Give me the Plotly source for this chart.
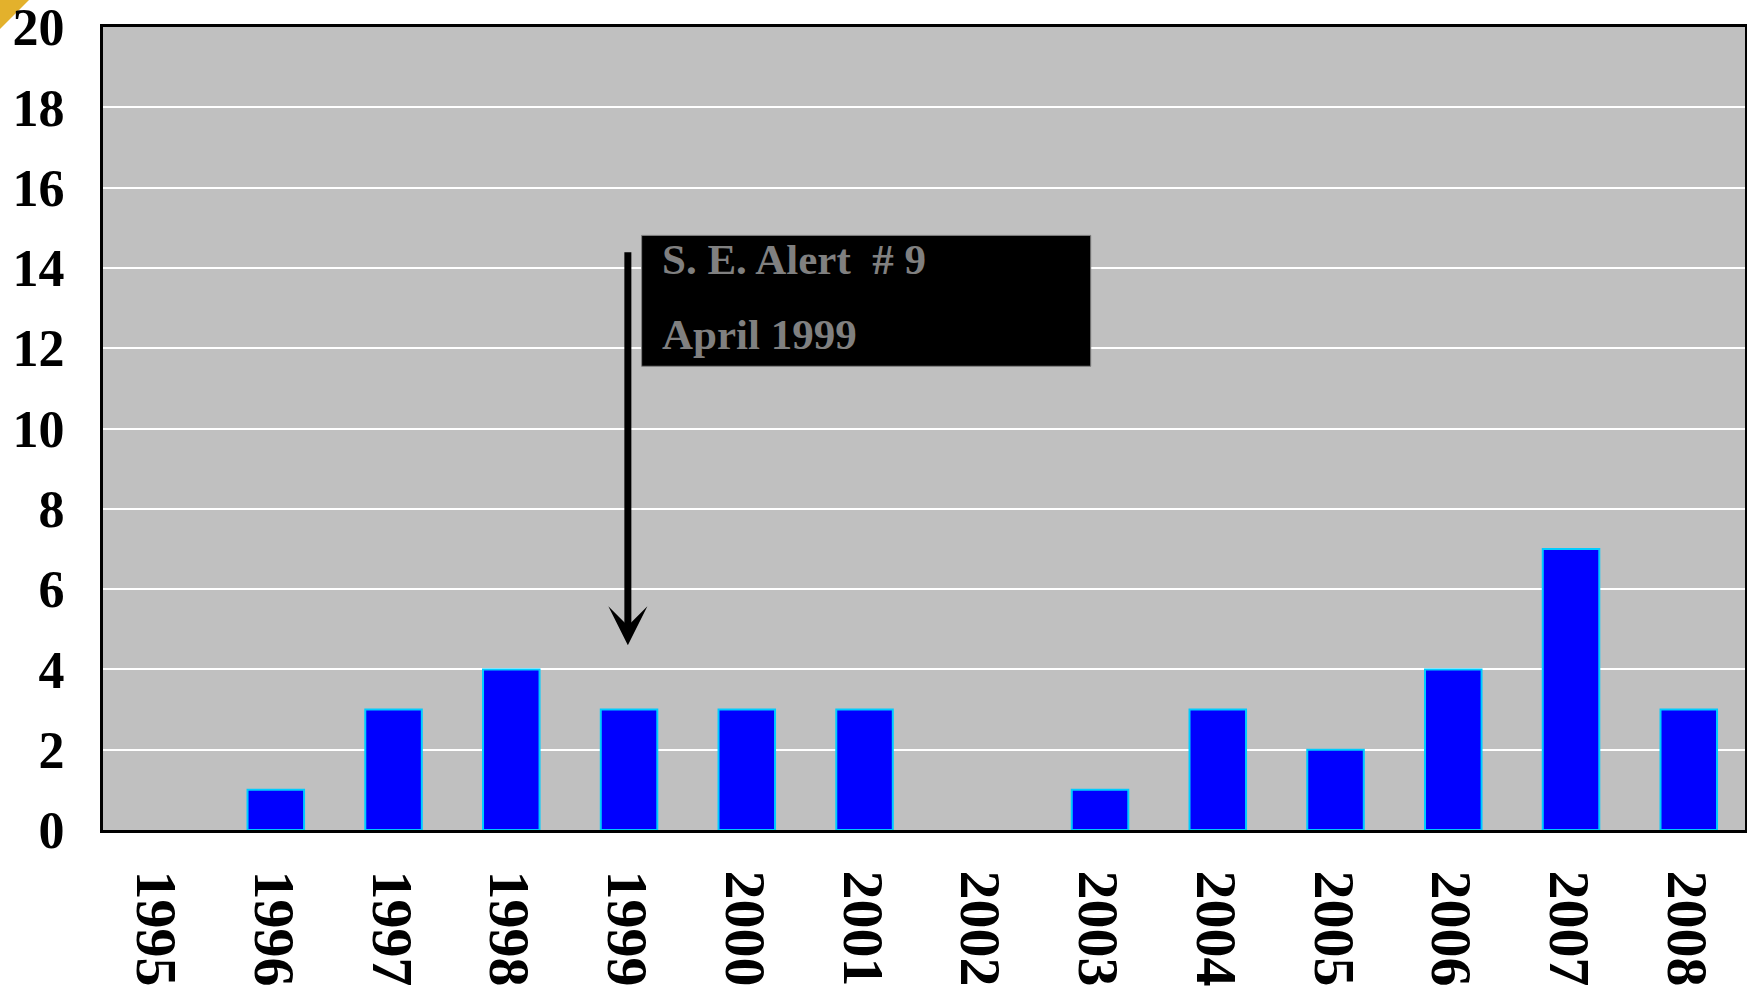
import plotly.graph_objects as go

years = ["1995", "1996", "1997", "1998", "1999", "2000", "2001",
         "2002", "2003", "2004", "2005", "2006", "2007", "2008"]
counts = [0, 1, 3, 4, 3, 3, 3, 0, 1, 3, 2, 4, 7, 3]
y_ticks = list(range(0, 21, 2))
note_lines = ["S. E. Alert  # 9", "April 1999"]

FONT = "Liberation Serif"

fig = go.Figure()
fig.add_trace(go.Bar(
    x=years, y=counts,
    marker=dict(color="#0000FF",
                line=dict(color="#00CCFF", width=[0 if v == 0 else 2 for v in counts])),
    width=0.48,
))

W, H = 1747, 988
L, R, T, B = 103, 2, 27, 158
fig.update_layout(
    width=W, height=H,
    margin=dict(l=L, r=R, t=T, b=B, autoexpand=False),
    paper_bgcolor="white",
    plot_bgcolor="#C0C0C0",
    showlegend=False,
    xaxis=dict(
        type="category", range=[-0.4675, 13.4775],
        showgrid=False, showline=True, linecolor="black", linewidth=3,
        mirror=True, ticks="outside", ticklen=26, tickcolor="rgba(0,0,0,0)",
        tickangle=90, ticklabeloverflow="allow", ticklabelshift=-2,
        tickfont=dict(family=FONT, size=58, color="black", weight="bold"),
        fixedrange=True,
    ),
    yaxis=dict(
        range=[0, 20], tickvals=y_ticks, ticktext=[str(v) for v in y_ticks],
        showgrid=True, gridcolor="white", gridwidth=2,
        showline=True, linecolor="black", linewidth=3, mirror=True,
        ticks="outside", ticklen=25, tickcolor="rgba(0,0,0,0)",
        zeroline=False, ticklabeloverflow="allow",
        tickfont=dict(family=FONT, size=52, color="black", weight="bold"),
        fixedrange=True,
    ),
)

# Black note box
fig.add_shape(type="rect", xref="x", yref="y",
              x0=4.107, x1=7.921, y0=11.55, y1=14.81,
              fillcolor="black", line=dict(color="#808080", width=1), layer="above")

fig.add_annotation(x=4.26, y=14.21, xref="x", yref="y", text=note_lines[0],
                   showarrow=False, xanchor="left", yanchor="middle",
                   font=dict(family=FONT, size=43, color="#808080", weight="bold"))
fig.add_annotation(x=4.26, y=12.35, xref="x", yref="y", text=note_lines[1],
                   showarrow=False, xanchor="left", yanchor="middle",
                   font=dict(family=FONT, size=43, color="#808080", weight="bold"))

# Arrow pointing at 1999
fig.add_annotation(x=3.99, y=4.6, xref="x", yref="y",
                   ax=3.99, ay=14.43, axref="x", ayref="y",
                   text="", showarrow=True, arrowhead=3, arrowwidth=7,
                   arrowsize=0.93, arrowcolor="black", standoff=0)

# Gold corner triangle (page pixel corner, converted to paper coords)
pw, ph = W - L - R, H - T - B
def px(xp):
    return (xp - L) / pw
def py(yp):
    return 1 - (yp - T) / ph
fig.add_shape(type="path", xref="paper", yref="paper",
              path="M {} {} L {} {} L {} {} Z".format(px(0), py(0), px(29), py(0), px(0), py(29)),
              fillcolor="#E3B12C", line=dict(width=0), layer="below")

fig.write_html("out.html", config={"displayModeBar": False},
               post_script="document.body.style.margin='0';document.body.style.overflow='hidden';")
